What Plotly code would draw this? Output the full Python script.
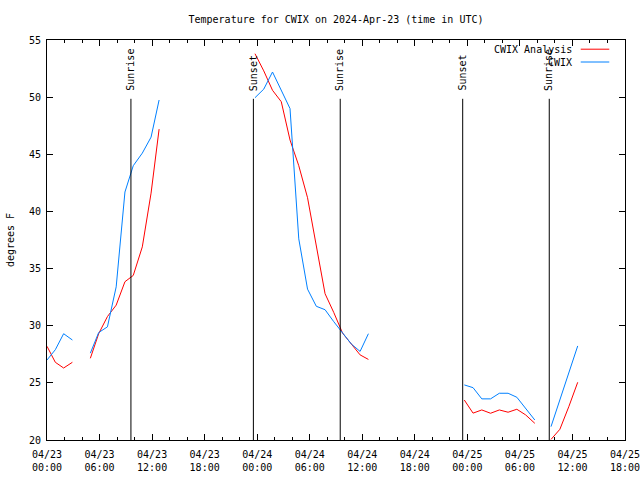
import plotly.graph_objects as go

# ---- data (UTC times) ----
times = [
    "2024-04-23 00:00", "2024-04-23 00:57", "2024-04-23 01:54", "2024-04-23 02:54", None,
    "2024-04-23 04:57", "2024-04-23 05:54", "2024-04-23 06:54", "2024-04-23 07:54", "2024-04-23 08:54",
    "2024-04-23 09:51", "2024-04-23 10:53", "2024-04-23 11:53", "2024-04-23 12:48", None,
    "2024-04-23 23:45", "2024-04-24 00:45", "2024-04-24 01:45", "2024-04-24 02:45", "2024-04-24 03:45",
    "2024-04-24 04:45", "2024-04-24 05:45", "2024-04-24 06:45", "2024-04-24 07:45", "2024-04-24 08:45",
    "2024-04-24 09:45", "2024-04-24 10:45", "2024-04-24 11:45", "2024-04-24 12:42", None,
    "2024-04-24 23:39", "2024-04-25 00:39", "2024-04-25 01:39", "2024-04-25 02:39", "2024-04-25 03:39",
    "2024-04-25 04:39", "2024-04-25 05:39", "2024-04-25 06:39", "2024-04-25 07:42", None,
    "2024-04-25 09:33", "2024-04-25 10:34", "2024-04-25 11:36", "2024-04-25 12:36",
]

analysis_temp = [
    28.2, 26.8, 26.3, 26.8, None,
    27.15, 29.3, 30.8, 31.8, 33.85, 34.4, 36.9, 41.6, 47.2, None,
    53.8, 52.3, 50.6, 49.6, 46.25, 44.0, 41.2, 37.0, 32.8, 31.15, 29.35, 28.4, 27.45, 27.05, None,
    23.5, 22.35, 22.63, 22.34, 22.63, 22.43, 22.69, 22.2, 21.46, None,
    20.05, 20.94, 22.95, 25.05,
]

obs_temp = [
    27.0, 27.9, 29.3, 28.75, None,
    27.6, 29.4, 29.9, 33.4, 41.7, 44.0, 45.1, 46.5, 49.75, None,
    49.95, 50.7, 52.2, 50.65, 49.0, 37.6, 33.2, 31.7, 31.4, 30.35, 29.4, 28.4, 27.75, 29.3, None,
    24.82, 24.58, 23.6, 23.6, 24.09, 24.09, 23.74, 22.78, 21.75, None,
    21.17, 23.56, 25.9, 28.23,
]

event_times = ["2024-04-23 09:35", "2024-04-23 23:34", "2024-04-24 09:29",
               "2024-04-24 23:28", "2024-04-25 09:21"]
event_labels = ["Sunrise", "Sunset", "Sunrise", "Sunset", "Sunrise"]

tick_times = ["2024-04-23 00:00", "2024-04-23 06:00", "2024-04-23 12:00", "2024-04-23 18:00",
              "2024-04-24 00:00", "2024-04-24 06:00", "2024-04-24 12:00", "2024-04-24 18:00",
              "2024-04-25 00:00", "2024-04-25 06:00", "2024-04-25 12:00", "2024-04-25 18:00"]
tick_labels = ["04/23<br>00:00", "04/23<br>06:00", "04/23<br>12:00", "04/23<br>18:00",
               "04/24<br>00:00", "04/24<br>06:00", "04/24<br>12:00", "04/24<br>18:00",
               "04/25<br>00:00", "04/25<br>06:00", "04/25<br>12:00", "04/25<br>18:00"]

series_names = ["CWIX Analysis", "CWIX"]
series_colors = ["#ff0000", "#0080ff"]

FONT = "DejaVu Sans Mono"
FIG_W, FIG_H = 640, 480

fig = go.Figure()
for name, vals, col in zip(series_names, [analysis_temp, obs_temp], series_colors):
    fig.add_trace(go.Scatter(x=times, y=vals, mode="lines", name=name,
                             line=dict(color=col, width=1), connectgaps=False,
                             showlegend=False))

# sunrise / sunset markers
for t, lab in zip(event_times, event_labels):
    fig.add_shape(type="line", xref="x", yref="paper", x0=t, x1=t, y0=0, y1=0.853,
                  line=dict(color="black", width=1))
    fig.add_annotation(x=t, y=0.868, xref="x", yref="paper", text=lab, textangle=-90,
                       showarrow=False, xanchor="center", yanchor="bottom",
                       font=dict(family=FONT, size=10, color="black"))

# manual legend (text left of sample line)
legend_y = [0.977, 0.945]
for name, col, ly in zip(series_names, series_colors, legend_y):
    fig.add_annotation(x=0.9118, y=ly, xref="paper", yref="paper", text=name,
                       showarrow=False, xanchor="right", yanchor="middle",
                       font=dict(family=FONT, size=10, color="black"))
    fig.add_shape(type="line", xref="paper", yref="paper", x0=0.9234, x1=0.9728,
                  y0=ly, y1=ly, line=dict(color=col, width=1))

fig.update_layout(
    width=FIG_W, height=FIG_H,
    margin=dict(l=47, r=15, t=40, b=40, pad=0, autoexpand=False),
    paper_bgcolor="white", plot_bgcolor="white",
    font=dict(family=FONT, size=10, color="black"),
    title=dict(text="Temperature for CWIX on 2024-Apr-23 (time in UTC)",
               x=0.5, xref="paper", xanchor="center", y=1 - 19 / FIG_H, yanchor="middle",
               font=dict(family=FONT, size=10, color="black")),
)
fig.update_xaxes(
    type="date", range=[tick_times[0], tick_times[-1]],
    tickmode="array", tickvals=tick_times, ticktext=tick_labels,
    ticks="inside", ticklen=6, tickcolor="black", showline=True, linecolor="black",
    linewidth=1, mirror="ticks", showgrid=False, zeroline=False, automargin=False,
    ticklabelstandoff=5, ticklabeloverflow="allow",
    minor=dict(dtick=2 * 3600 * 1000, tick0=tick_times[0], ticks="inside", ticklen=3,
               tickcolor="black", showgrid=False),
    tickfont=dict(family=FONT, size=10),
)
fig.update_yaxes(
    range=[20, 55], dtick=5, tick0=20, ticks="inside", ticklen=6, tickcolor="black",
    showline=True, linecolor="black", linewidth=1, mirror="ticks", showgrid=False,
    zeroline=False, automargin=False, ticklabelstandoff=3,
    title=dict(text="degrees F", standoff=12, font=dict(family=FONT, size=10)),
    tickfont=dict(family=FONT, size=10),
)

fig.write_html("out.html", config={"displayModeBar": False},
               post_script="document.body.style.margin='0';document.body.style.overflow='hidden';")
